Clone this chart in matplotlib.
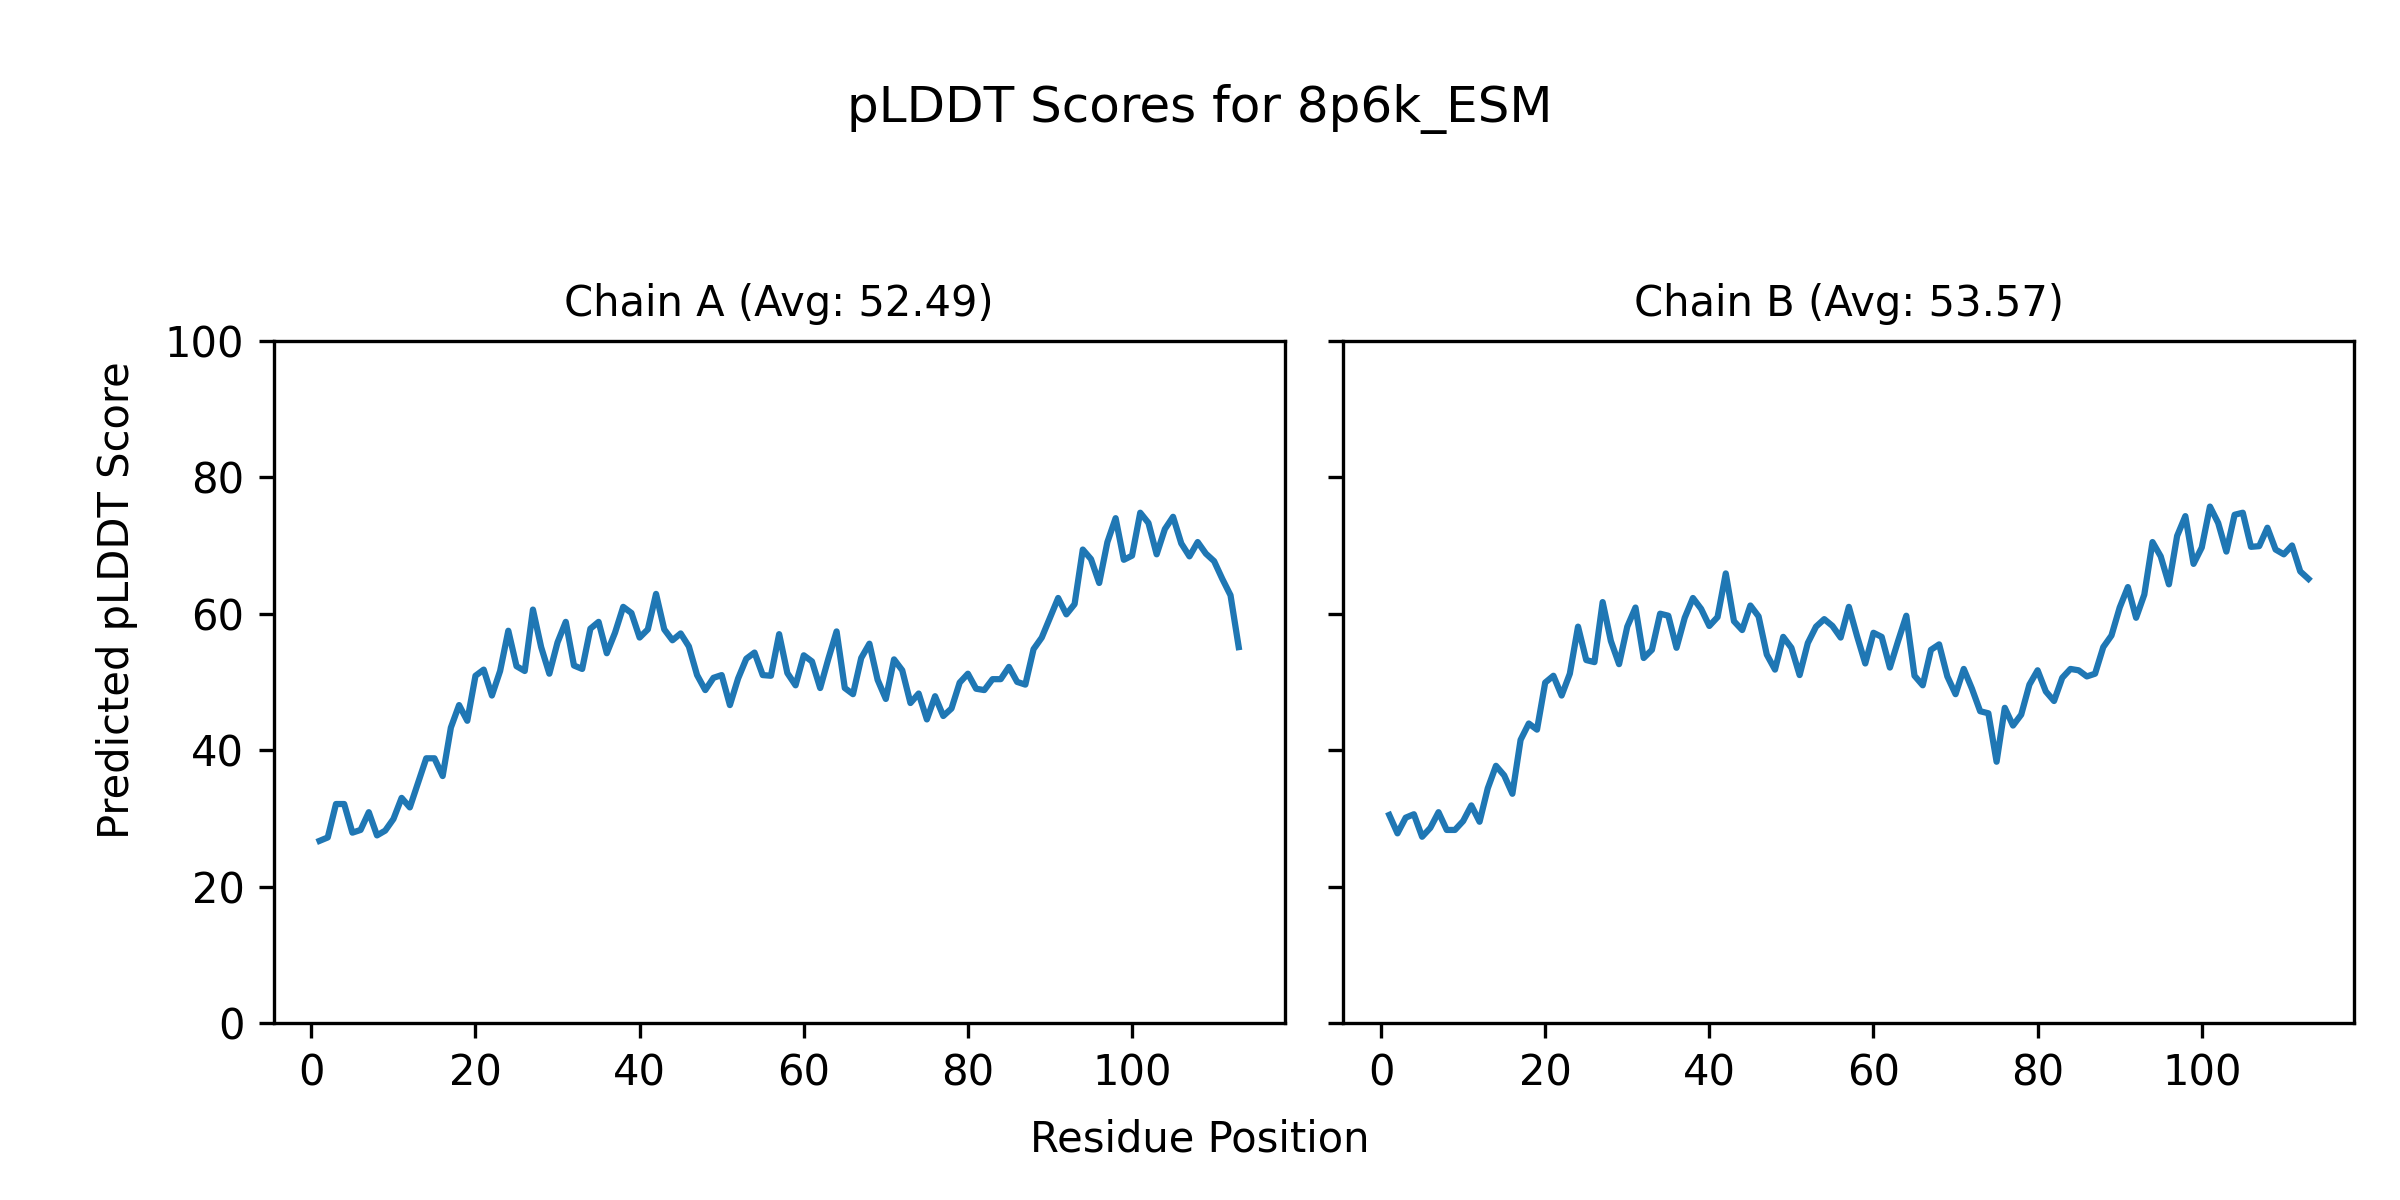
import matplotlib
matplotlib.use('Agg')
import matplotlib.pyplot as plt

# pLDDT per residue
chain_a = [26.7, 27.2, 32.1, 32.1, 27.9, 28.3, 30.9, 27.5, 28.2, 29.9,
           33.0, 31.6, 35.2, 38.8, 38.8, 36.2, 43.3, 46.6, 44.3, 50.9,
           51.8, 48.0, 51.6, 57.5, 52.3, 51.6, 60.6, 55.1, 51.2, 55.8,
           58.8, 52.4, 51.9, 57.8, 58.8, 54.2, 57.2, 61.0, 60.1, 56.5,
           57.7, 62.9, 57.7, 56.1, 57.1, 55.2, 51.0, 48.8, 50.6, 51.0,
           46.6, 50.5, 53.4, 54.3, 51.0, 50.9, 57.0, 51.3, 49.5, 53.9,
           53.0, 49.1, 53.4, 57.4, 49.1, 48.2, 53.5, 55.6, 50.3, 47.5,
           53.3, 51.7, 46.9, 48.3, 44.5, 47.9, 45.0, 46.1, 49.9, 51.2,
           49.0, 48.8, 50.4, 50.4, 52.2, 50.0, 49.6, 54.8, 56.5, 59.4,
           62.3, 59.9, 61.4, 69.4, 68.0, 64.5, 70.5, 74.0, 67.9, 68.5,
           74.8, 73.3, 68.7, 72.4, 74.2, 70.3, 68.4, 70.5, 68.8, 67.7,
           65.1, 62.7, 55.1]

chain_b = [30.5, 27.8, 30.1, 30.6, 27.3, 28.6, 30.9, 28.3, 28.3, 29.6,
           31.9, 29.5, 34.4, 37.7, 36.3, 33.6, 41.5, 43.9, 43.0, 49.9,
           50.9, 48.0, 51.2, 58.1, 53.2, 52.9, 61.7, 56.0, 52.6, 58.1,
           60.9, 53.5, 54.7, 60.0, 59.7, 55.0, 59.4, 62.3, 60.7, 58.2,
           59.5, 65.9, 58.9, 57.6, 61.2, 59.6, 54.0, 51.8, 56.6, 55.0,
           51.0, 55.7, 58.1, 59.2, 58.2, 56.5, 61.0, 56.7, 52.7, 57.2,
           56.6, 52.1, 56.0, 59.7, 50.9, 49.5, 54.7, 55.5, 50.8, 48.2,
           51.9, 49.0, 45.7, 45.4, 38.3, 46.2, 43.6, 45.2, 49.6, 51.7,
           48.6, 47.2, 50.6, 51.9, 51.7, 50.8, 51.2, 55.1, 56.8, 60.9,
           63.9, 59.4, 62.8, 70.5, 68.4, 64.3, 71.4, 74.3, 67.3, 69.7,
           75.7, 73.3, 69.1, 74.5, 74.8, 69.8, 69.9, 72.6, 69.4, 68.7,
           70.0, 66.2, 65.1]

chain_names = ['A', 'B']
chain_avgs = [52.49, 53.57]

fig, axes = plt.subplots(1, 2, figsize=(8, 4), dpi=300, sharey=True)

for ax, name, avg, scores in zip(axes, chain_names, chain_avgs, [chain_a, chain_b]):
    residues = list(range(1, len(scores) + 1))
    ax.plot(residues, scores)
    ax.set_title(f'Chain {name} (Avg: {avg:.2f})', fontsize=10)
    ax.set_ylim(0, 100)

# shared axis labels
fig.suptitle('pLDDT Scores for 8p6k_ESM', y=0.93, va='top')
fig.text(0.5, 0.04, 'Residue Position', ha='center')
fig.text(0.04, 0.5, 'Predicted pLDDT Score', va='center', rotation='vertical')

plt.subplots_adjust(left=0.114, right=0.981, top=0.716, bottom=0.1475, wspace=0.058)
plt.savefig('out.png')
